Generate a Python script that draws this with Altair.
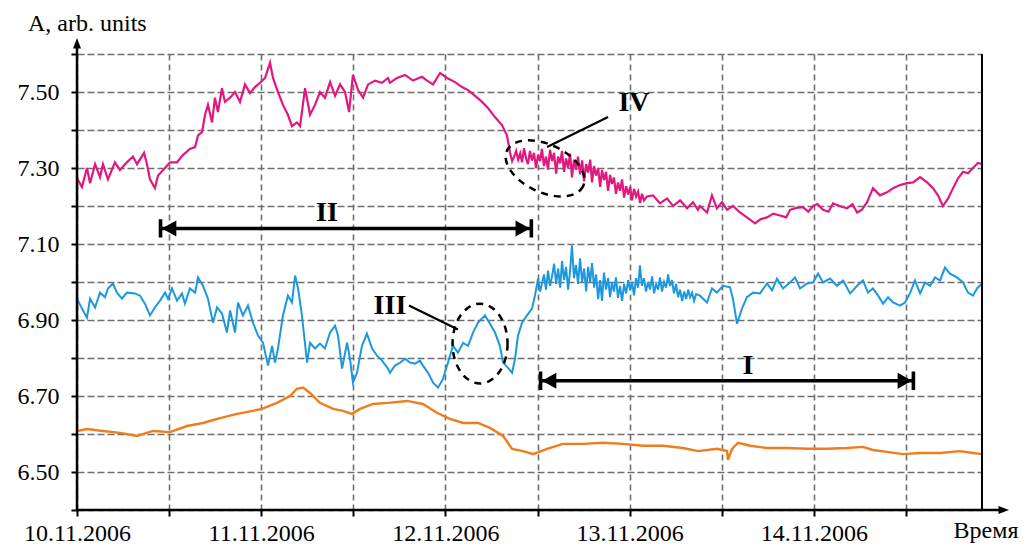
import json
import altair as alt
import pandas as pd

# ---------------- data (time in days since 10.11.2006 00:00, amplitude in arb. units)
# magenta series, read in three segments
mag_t_a = [0.000, 0.027, 0.054, 0.071, 0.098, 0.125, 0.141, 0.168, 0.206, 0.233, 0.271, 0.304, 0.326, 0.364,
           0.380, 0.396, 0.423, 0.440, 0.478, 0.505, 0.543, 0.575, 0.613, 0.641, 0.657, 0.679, 0.695, 0.711,
           0.733, 0.749, 0.765, 0.787, 0.803, 0.831, 0.858, 0.885, 0.912, 0.939, 0.966, 0.993, 1.021, 1.048,
           1.064, 1.091, 1.118, 1.145, 1.167, 1.194, 1.211, 1.238, 1.265, 1.292, 1.319, 1.346, 1.374, 1.401,
           1.428, 1.455, 1.477, 1.498, 1.526, 1.553, 1.580, 1.618, 1.656, 1.688, 1.699, 1.737, 1.781, 1.824,
           1.873, 1.900, 1.933, 1.971, 2.009, 2.052, 2.090, 2.123, 2.161, 2.199, 2.231, 2.269, 2.307, 2.334]
mag_v_a = [7.273, 7.250, 7.300, 7.260, 7.310, 7.276, 7.310, 7.270, 7.315, 7.295, 7.315, 7.330, 7.310, 7.340,
           7.310, 7.270, 7.247, 7.280, 7.300, 7.315, 7.315, 7.334, 7.350, 7.355, 7.386, 7.395, 7.440, 7.466,
           7.420, 7.485, 7.447, 7.510, 7.474, 7.485, 7.500, 7.474, 7.520, 7.497, 7.513, 7.524, 7.537, 7.577,
           7.537, 7.500, 7.466, 7.440, 7.410, 7.420, 7.410, 7.510, 7.440, 7.466, 7.500, 7.485, 7.526, 7.490,
           7.520, 7.500, 7.447, 7.545, 7.505, 7.485, 7.520, 7.530, 7.524, 7.537, 7.524, 7.537, 7.545, 7.530,
           7.540, 7.530, 7.520, 7.550, 7.537, 7.526, 7.513, 7.505, 7.490, 7.474, 7.458, 7.434, 7.413, 7.386]
mag_t_b = [2.351, 2.362, 2.373, 2.384, 2.395, 2.406, 2.416, 2.427, 2.438, 2.448, 2.459, 2.470, 2.481, 2.492,
           2.503, 2.514, 2.524, 2.535, 2.546, 2.557, 2.568, 2.579, 2.590, 2.601, 2.612, 2.623, 2.633, 2.644,
           2.655, 2.666, 2.677, 2.687, 2.698, 2.709, 2.720, 2.731, 2.742, 2.753, 2.764, 2.775, 2.786, 2.796,
           2.807, 2.818, 2.829, 2.840, 2.850, 2.861, 2.872, 2.883, 2.894, 2.904, 2.915, 2.926, 2.937, 2.948,
           2.959, 2.970, 2.981, 2.992, 3.003, 3.013, 3.024, 3.035, 3.046, 3.057, 3.067, 3.078, 3.094]
mag_v_b = [7.340, 7.318, 7.330, 7.345, 7.322, 7.338, 7.315, 7.352, 7.325, 7.310, 7.345, 7.320, 7.340, 7.300,
           7.335, 7.318, 7.350, 7.305, 7.330, 7.296, 7.348, 7.318, 7.340, 7.285, 7.330, 7.312, 7.345, 7.290,
           7.325, 7.300, 7.338, 7.275, 7.322, 7.295, 7.330, 7.283, 7.320, 7.265, 7.310, 7.288, 7.322, 7.262,
           7.305, 7.280, 7.300, 7.250, 7.295, 7.268, 7.290, 7.240, 7.282, 7.258, 7.275, 7.232, 7.262, 7.240,
           7.270, 7.222, 7.252, 7.230, 7.250, 7.215, 7.245, 7.225, 7.238, 7.208, 7.232, 7.215, 7.225]
mag_t_c = [3.127, 3.165, 3.203, 3.236, 3.274, 3.312, 3.344, 3.371, 3.382, 3.420, 3.447, 3.474,
           3.502, 3.529, 3.561, 3.599, 3.637, 3.681, 3.710, 3.746, 3.780, 3.817, 3.850, 3.871, 3.905, 3.941,
           3.970, 3.996, 4.020, 4.050, 4.080, 4.104, 4.140, 4.180, 4.210, 4.235, 4.260, 4.289, 4.321, 4.359,
           4.397, 4.430, 4.468, 4.506, 4.539, 4.577, 4.615, 4.647, 4.674, 4.701, 4.729, 4.756, 4.783, 4.810,
           4.837, 4.864, 4.891, 4.913]
mag_v_c = [7.228, 7.207, 7.220, 7.200, 7.215, 7.194, 7.210, 7.190, 7.200, 7.183, 7.228, 7.194,
           7.210, 7.190, 7.200, 7.183, 7.170, 7.154, 7.165, 7.170, 7.180, 7.175, 7.170, 7.190, 7.195, 7.197,
           7.185, 7.200, 7.205, 7.190, 7.185, 7.207, 7.200, 7.194, 7.205, 7.183, 7.190, 7.210, 7.247, 7.228,
           7.236, 7.247, 7.255, 7.260, 7.262, 7.276, 7.262, 7.247, 7.228, 7.200, 7.220, 7.247, 7.273, 7.290,
           7.286, 7.300, 7.313, 7.310]

# blue series, three segments
blue_t_a = [0.000, 0.027, 0.054, 0.071, 0.098, 0.125, 0.152, 0.168, 0.195, 0.217, 0.244, 0.271, 0.315, 0.342,
            0.369, 0.396, 0.423, 0.451, 0.478, 0.494, 0.516, 0.543, 0.570, 0.586, 0.613, 0.641, 0.657, 0.684,
            0.711, 0.738, 0.760, 0.787, 0.814, 0.831, 0.858, 0.874, 0.901, 0.928, 0.955, 0.983, 1.010, 1.037,
            1.059, 1.075, 1.091, 1.118, 1.145, 1.167, 1.184, 1.200, 1.221, 1.249, 1.265, 1.292, 1.319, 1.346,
            1.374, 1.401, 1.417, 1.439, 1.466, 1.482, 1.498, 1.520, 1.547, 1.574, 1.602, 1.629, 1.656, 1.688,
            1.699, 1.726, 1.754, 1.781, 1.808, 1.835, 1.862, 1.878, 1.906, 1.933, 1.960, 1.987, 2.014, 2.041,
            2.068, 2.096, 2.123, 2.150, 2.177, 2.215, 2.242, 2.269, 2.296, 2.313, 2.340, 2.362, 2.378, 2.394,
            2.416, 2.443, 2.470, 2.486]
blue_v_a = [6.956, 6.930, 6.906, 6.956, 6.933, 6.972, 6.960, 6.983, 6.996, 6.972, 6.956, 6.972, 6.970, 6.964,
            6.943, 6.912, 6.933, 6.951, 6.972, 6.956, 6.983, 6.951, 6.970, 6.943, 6.983, 6.972, 7.012, 6.990,
            6.956, 6.893, 6.933, 6.917, 6.867, 6.925, 6.867, 6.946, 6.912, 6.938, 6.893, 6.859, 6.840, 6.780,
            6.832, 6.788, 6.825, 6.912, 6.964, 6.946, 7.017, 6.983, 6.912, 6.788, 6.840, 6.825, 6.838, 6.825,
            6.867, 6.885, 6.859, 6.772, 6.840, 6.798, 6.735, 6.761, 6.832, 6.864, 6.825, 6.806, 6.793, 6.772,
            6.761, 6.780, 6.788, 6.798, 6.788, 6.785, 6.793, 6.780, 6.761, 6.735, 6.722, 6.745, 6.788, 6.832,
            6.814, 6.840, 6.832, 6.867, 6.893, 6.912, 6.890, 6.867, 6.832, 6.788, 6.774, 6.761, 6.798, 6.859,
            6.893, 6.912, 6.930, 6.964]
blue_t_b = [2.503, 2.514, 2.524, 2.535, 2.546, 2.557, 2.568, 2.579, 2.590, 2.601, 2.612, 2.623, 2.633, 2.644,
            2.655, 2.666, 2.677, 2.687, 2.698, 2.709, 2.720, 2.731, 2.742, 2.753, 2.764, 2.775, 2.786, 2.796,
            2.807, 2.818, 2.829, 2.840, 2.850, 2.861, 2.872, 2.883, 2.894, 2.904, 2.915, 2.926, 2.937, 2.948,
            2.959, 2.970, 2.981, 2.992, 3.003, 3.013, 3.024, 3.035, 3.046, 3.056, 3.067, 3.078, 3.089, 3.100,
            3.111, 3.122, 3.133, 3.144, 3.155, 3.165, 3.176, 3.187, 3.198, 3.209, 3.219, 3.230, 3.241, 3.252,
            3.263, 3.274, 3.285, 3.296, 3.307, 3.318, 3.328, 3.339, 3.350, 3.361]
blue_v_b = [7.009, 6.975, 6.995, 7.020, 6.980, 7.030, 6.990, 7.015, 7.048, 6.995, 7.035, 6.985, 7.055, 7.005,
            7.040, 6.980, 7.030, 7.096, 7.010, 7.045, 6.995, 7.062, 7.000, 7.035, 6.975, 7.040, 7.000, 7.050,
            6.985, 7.020, 6.955, 7.005, 6.950, 7.025, 6.980, 7.010, 6.960, 7.000, 6.975, 7.012, 6.958, 6.990,
            6.950, 6.995, 6.970, 7.005, 6.978, 7.000, 6.965, 7.010, 6.985, 7.044, 6.990, 7.010, 6.975, 7.000,
            6.980, 7.015, 6.970, 6.995, 6.980, 7.012, 6.975, 7.000, 6.985, 7.020, 6.990, 7.005, 6.970, 6.995,
            6.960, 6.980, 6.950, 6.975, 6.955, 6.980, 6.960, 6.972, 6.950, 6.968]
blue_t_c = [3.382, 3.420, 3.447, 3.474,
            3.507, 3.545, 3.561, 3.583, 3.610, 3.637, 3.670, 3.708, 3.746, 3.773, 3.800, 3.833, 3.871, 3.898,
            3.925, 3.963, 3.996, 4.023, 4.050, 4.088, 4.126, 4.159, 4.197, 4.235, 4.267, 4.294, 4.321, 4.349,
            4.376, 4.403, 4.430, 4.468, 4.495, 4.522, 4.549, 4.577, 4.604, 4.631, 4.658, 4.685, 4.712, 4.739,
            4.777, 4.810, 4.837, 4.864, 4.886, 4.913]
blue_v_c = [6.964, 6.946, 6.983, 6.972,
            6.990, 6.986, 6.956, 6.890, 6.930, 6.960, 6.972, 6.970, 6.996, 6.978, 7.009, 6.983, 6.999, 7.012,
            6.983, 6.996, 6.999, 7.022, 6.999, 7.009, 6.990, 7.004, 6.970, 6.990, 7.004, 6.972, 6.983, 6.964,
            6.943, 6.960, 6.946, 6.938, 6.946, 6.970, 7.004, 6.970, 6.999, 6.990, 7.012, 7.004, 7.038, 7.022,
            7.012, 6.999, 6.972, 6.964, 6.983, 6.996]

orange_t = [0.000, 0.054, 0.141, 0.233, 0.326, 0.413, 0.505, 0.597, 0.684, 0.776, 0.869, 0.955, 1.004, 1.086,
            1.156, 1.194, 1.227, 1.265, 1.319, 1.390, 1.444, 1.493, 1.536, 1.607, 1.688, 1.792, 1.878, 1.954,
            2.025, 2.096, 2.177, 2.242, 2.313, 2.362, 2.421, 2.476, 2.552, 2.638, 2.747, 2.856, 2.964, 3.073,
            3.181, 3.290, 3.371, 3.474, 3.529, 3.534, 3.556, 3.589, 3.654, 3.746, 3.855, 3.963, 4.072, 4.180,
            4.267, 4.321, 4.397, 4.484, 4.577, 4.685, 4.794, 4.864, 4.913]
orange_v = [6.608, 6.613, 6.608, 6.603, 6.595, 6.608, 6.605, 6.621, 6.629, 6.642, 6.653, 6.661, 6.666, 6.682,
            6.700, 6.719, 6.722, 6.708, 6.682, 6.666, 6.661, 6.653, 6.666, 6.679, 6.682, 6.687, 6.679, 6.656,
            6.640, 6.629, 6.629, 6.616, 6.595, 6.561, 6.555, 6.547, 6.561, 6.574, 6.574, 6.577, 6.574, 6.569,
            6.569, 6.563, 6.555, 6.561, 6.555, 6.532, 6.561, 6.577, 6.569, 6.563, 6.563, 6.561, 6.561, 6.563,
            6.566, 6.558, 6.553, 6.547, 6.550, 6.550, 6.555, 6.550, 6.547]

# interval arrows I and II
arrow_start = [0.461, 2.524]
arrow_end = [2.459, 4.533]
arrow_level = [7.141, 6.740]

# roman-numeral labels
label_text = ["II", "I", "III", "IV"]
label_t = [1.357, 3.643, 1.699, 3.024]
label_v = [7.181, 6.780, 6.938, 7.471]

# leader lines (III, IV)
leader_t1 = [1.802, 2.883]
leader_v1 = [6.938, 7.434]
leader_t2 = [2.068, 2.552]
leader_v2 = [6.875, 7.355]

# dashed ellipses (III, IV)
ell_t = [2.188, 2.541]
ell_v = [6.838, 7.299]

X_TICKS = [0, 0.5, 1, 1.5, 2, 2.5, 3, 3.5, 4, 4.5]
X_LABELS = ["10.11.2006", "11.11.2006", "12.11.2006", "13.11.2006", "14.11.2006"]
Y_TICKS = [6.4, 6.5, 6.6, 6.7, 6.8, 6.9, 7.0, 7.1, 7.2, 7.3, 7.4, 7.5, 7.6]
Y_LABELS = ["6.50", "6.70", "6.90", "7.10", "7.30", "7.50"]
X_MAX = 4.913
Y_MIN, Y_MAX = 6.4, 7.6

# ---------------- layout / style
W, H = 905, 456
FONT = "Liberation Serif"
GRID = "#6f6f6f"
C_MAG = "#E2187E"
C_BLUE = "#1C98DE"
C_ORANGE = "#EF7D1C"

x_axis = alt.Axis(
    values=X_TICKS,
    labelExpr="datum.value % 1 === 0 ? " + json.dumps(X_LABELS) + "[datum.value] : ''",
    grid=True, gridDash=[6, 4], gridColor=GRID, gridWidth=1.6,
    domain=False, ticks=True, tickSize=6, tickWidth=2, tickColor="black",
    labelFont=FONT, labelFontSize=24, labelColor="black", labelPadding=5,
    labelFlush=False, labelOverlap=False, title=None,
)
y_axis = alt.Axis(
    values=Y_TICKS,
    labelExpr="indexof(" + json.dumps(Y_LABELS) + ", format(datum.value, '.2f')) >= 0 ? format(datum.value, '.2f') : ''",
    grid=True, gridDash=[7, 3], gridColor=GRID, gridWidth=1.6,
    domain=False, ticks=True, tickSize=6, tickWidth=2, tickColor="black",
    labelFont=FONT, labelFontSize=24, labelColor="black", labelPadding=12,
    labelFlush=False, labelOverlap=False, title=None,
)
x_enc = alt.X("t:Q", scale=alt.Scale(domain=[0, X_MAX], nice=False, zero=False), axis=x_axis)
y_enc = alt.Y("v:Q", scale=alt.Scale(domain=[Y_MIN, Y_MAX], nice=False, zero=False), axis=y_axis)


def series(t, v, color, width):
    df = pd.DataFrame({"t": t, "v": v})
    return alt.Chart(df).mark_line(color=color, strokeWidth=width, clip=True).encode(x=x_enc, y=y_enc)


one = alt.Data(values=[{"a": 1}])

# interval arrows
arr_df = pd.DataFrame({"t": arrow_start, "t2": arrow_end, "v": arrow_level})
arr_rule = alt.Chart(arr_df).mark_rule(color="black", strokeWidth=3.5).encode(x=x_enc, x2="t2:Q", y=y_enc)
LEFT_HEAD = "M0,0 L1.8,-1 L1.8,1 Z M-0.4,-1.15 L0.05,-1.15 L0.05,1.15 L-0.4,1.15 Z"
RIGHT_HEAD = "M0,0 L-1.8,-1 L-1.8,1 Z M0.4,-1.15 L-0.05,-1.15 L-0.05,1.15 L0.4,1.15 Z"
lh_df = pd.DataFrame({"t": arrow_start, "v": arrow_level})
rh_df = pd.DataFrame({"t": arrow_end, "v": arrow_level})
lheads = alt.Chart(lh_df).mark_point(shape=LEFT_HEAD, filled=True, color="black", opacity=1, size=256).encode(x=x_enc, y=y_enc)
rheads = alt.Chart(rh_df).mark_point(shape=RIGHT_HEAD, filled=True, color="black", opacity=1, size=256).encode(x=x_enc, y=y_enc)

# labels
lab_df = pd.DataFrame({"t": label_t, "v": label_v, "txt": label_text})
labels = alt.Chart(lab_df).mark_text(font=FONT, fontSize=28, fontWeight="bold", color="black",
                                     align="center", baseline="middle").encode(x=x_enc, y=y_enc, text="txt:N")

# leader lines
lead_df = pd.DataFrame({"t": leader_t1, "v": leader_v1, "t2": leader_t2, "v2": leader_v2})
leaders = alt.Chart(lead_df).mark_rule(color="black", strokeWidth=2.2).encode(x=x_enc, y=y_enc, x2="t2:Q", y2="v2:Q")

# dashed ellipses
ELL_TALL = ("M1,0 C1,0.8008 0.5523,1.45 0,1.45 C-0.5523,1.45 -1,0.8008 -1,0 "
            "C-1,-0.8008 -0.5523,-1.45 0,-1.45 C0.5523,-1.45 1,-0.8008 1,0 Z")
ELL_WIDE = ("M1,0 C1,0.3154 0.5523,0.571 0,0.571 C-0.5523,0.571 -1,0.3154 -1,0 "
            "C-1,-0.3154 -0.5523,-0.571 0,-0.571 C0.5523,-0.571 1,-0.3154 1,0 Z")
e3 = alt.Chart(pd.DataFrame({"t": ell_t[:1], "v": ell_v[:1]})).mark_point(
    shape=ELL_TALL, filled=False, color="black", opacity=1, size=3025, strokeWidth=2.5, strokeDash=[7, 6]
).encode(x=x_enc, y=y_enc)
e4 = alt.Chart(pd.DataFrame({"t": ell_t[1:], "v": ell_v[1:]})).mark_point(
    shape=ELL_WIDE, filled=False, color="black", opacity=1, size=7056, strokeWidth=2.5, strokeDash=[7, 6], angle=25
).encode(x=x_enc, y=y_enc)

# axis lines with arrows, right border
y_line = alt.Chart(one).mark_rule(color="black", strokeWidth=2.5).encode(
    x=alt.value(0), y=alt.value(-9), y2=alt.value(H))
x_line = alt.Chart(one).mark_rule(color="black", strokeWidth=2.5).encode(
    x=alt.value(0), x2=alt.value(W + 20), y=alt.value(H))
r_line = alt.Chart(one).mark_rule(color="black", strokeWidth=2).encode(
    x=alt.value(W), y=alt.value(0), y2=alt.value(H))
UP = "M0,0 L-0.8,2.1 L0.8,2.1 Z"
RIGHT = "M0,0 L-2.1,-0.8 L-2.1,0.8 Z"
y_arrow = alt.Chart(one).mark_point(shape=UP, filled=True, color="black", opacity=1, size=100).encode(
    x=alt.value(0), y=alt.value(-16))
x_arrow = alt.Chart(one).mark_point(shape=RIGHT, filled=True, color="black", opacity=1, size=100).encode(
    x=alt.value(W + 27), y=alt.value(H))

y_title = alt.Chart(one).mark_text(text="A, arb. units", font=FONT, fontSize=24, color="black",
                                   align="left", baseline="alphabetic").encode(x=alt.value(-49), y=alt.value(-23))
x_title = alt.Chart(one).mark_text(text="Время", font=FONT, fontSize=24, color="black",
                                   align="center", baseline="alphabetic").encode(x=alt.value(W + 4), y=alt.value(H + 28))

chart = alt.layer(
    series(orange_t, orange_v, C_ORANGE, 2.4),
    series(blue_t_a + blue_t_b + blue_t_c, blue_v_a + blue_v_b + blue_v_c, C_BLUE, 2),
    series(mag_t_a + mag_t_b + mag_t_c, mag_v_a + mag_v_b + mag_v_c, C_MAG, 2.2),
    arr_rule, lheads, rheads, leaders, e3, e4, labels,
    y_line, x_line, r_line, y_arrow, x_arrow, y_title, x_title,
).properties(
    width=W, height=H,
    autosize=alt.AutoSizeParams(type="none"),
    padding={"left": 77, "top": 54, "right": 50, "bottom": 36},
    background="white",
).configure_view(strokeOpacity=0)

chart.save("out.html", embed_options={"renderer": "svg", "actions": False})
